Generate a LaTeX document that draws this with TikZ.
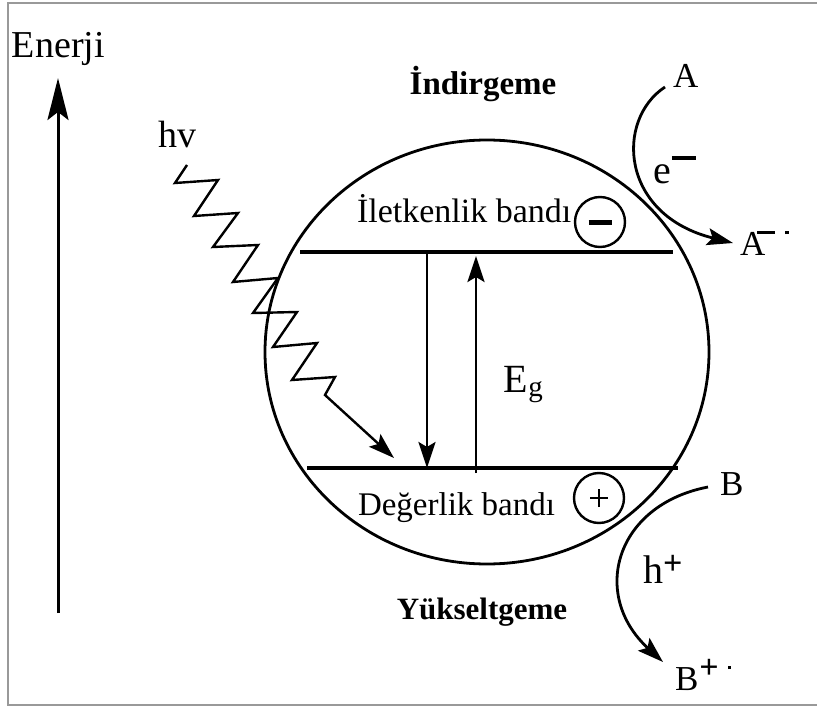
\documentclass[tikz,border=0pt]{standalone}
\usepackage{fontspec}
\setmainfont{Liberation Serif}
\usetikzlibrary{arrows.meta,shapes.geometric}
\newcommand\fsz[1]{\fontsize{#1pt}{#1pt}\selectfont}
\begin{document}
\begin{tikzpicture}[x=1pt,y=-1pt,
  lbl/.style={inner sep=0pt, outer sep=0pt, anchor=base west},
  boldlbl/.style={inner sep=0pt, outer sep=0pt, anchor=base, font=\fsz{33}\bfseries},
  headtip/.style={-{Stealth[length=26pt,width=17pt,inset=5pt]}},
  band/.style={line width=3.5pt},
  conn/.style={line width=2.8pt},
  chg/.style={circle, draw, line width=2.4pt, minimum size=50pt, inner sep=0pt},
  framestyle/.style={draw=gray!80, line width=2pt}]
\useasboundingbox (0,0) rectangle (817,709);
% frame
\draw[framestyle] (817,3) -- (8,3) -- (8,705) -- (817,705);

% energy axis
\coordinate (ebot) at (58,613);
\coordinate (etop) at (58,78);
\draw[line width=3pt, -{Stealth[length=42pt,width=21pt,inset=8pt]}] (ebot) -- (etop);
\node[lbl, font=\fsz{38}] (enerji) at (12,58) {Enerji};

% semiconductor particle
\node[draw, ellipse, line width=2.8pt, minimum width=444pt, minimum height=424pt, inner sep=0pt] (sc) at (487,352) {};

% bands
\coordinate (cb1) at (300,252); \coordinate (cb2) at (673,252);
\coordinate (vb1) at (307,468); \coordinate (vb2) at (678,468);
\draw[band] (cb1) -- (cb2);
\draw[band] (vb1) -- (vb2);

% band gap arrows
\coordinate (dtop) at (427,252); \coordinate (dbot) at (427,468);
\coordinate (ubot) at (476,473); \coordinate (utop) at (476,256);
\draw[conn, headtip] (dtop) -- (dbot);
\draw[conn, headtip] (ubot) -- (utop);
\node[lbl, font=\fsz{40}] (eg) at (503,392) {E\kern1pt\raisebox{-4pt}{\fsz{29}g}};

% band labels
\node[lbl, font=\fsz{34}] (cbl) at (357,222) {İletkenlik bandı};
\node[lbl, font=\fsz{33}] (vbl) at (358,515) {Değerlik bandı};
\node[chg] (minus) at (600,222) {\rule{23pt}{5pt}};
\node[chg] (plus) at (599,498) {\rlap{\rule[7.75pt]{18pt}{2.5pt}}\kern7.75pt\rule{2.5pt}{18pt}\kern7.75pt};

% reaction labels
\node[boldlbl] (ind) at (483,95) {İndirgeme};
\node[boldlbl, font=\fsz{31}\bfseries] (yuk) at (482,619) {Yükseltgeme};

% photon
\node[lbl, font=\fsz{38}] (hv) at (158,147) {hv};
\coordinate (hvs) at (187,165);
\coordinate (hve) at (394,458);
\draw[line width=2.4pt, line join=miter, headtip] (hvs) -- (175,183) -- (218,180) -- (194,216) -- (238,213)
  -- (213,247) -- (258,245) -- (233,282) -- (278,278) -- (253,313) -- (297,312)
  -- (273,347) -- (317,343) -- (292,380) -- (335,377) -- (325,395) -- (hve);

% reduction A -> A-.
\node[lbl, font=\fsz{35}] (A) at (673,88) {A};
\node[lbl, font=\fsz{35}] (Arad) at (740,255) {A\kern-8pt\rule[21pt]{18pt}{3.5pt}\kern10pt\rule[21pt]{3.5pt}{3.5pt}};
\node[lbl, font=\fsz{40}] (elec) at (653,183) {e\kern1pt\rule[23pt]{24pt}{4pt}};
\coordinate (as) at (665,87);
\coordinate (ae) at (733,243);
\draw[conn, headtip] (as) .. controls (615,120) and (620,215) .. (ae);

% oxidation B -> B+.
\node[lbl, font=\fsz{35}] (B) at (720,495) {B};
\node[lbl, font=\fsz{35}] (Brad) at (675,690) {B\kern1pt\raisebox{12pt}{\fsz{34}\bfseries +}\kern9pt\rule[21pt]{3.5pt}{3.5pt}};
\node[lbl, font=\fsz{40}] (hole) at (643,583) {h\raisebox{9pt}{\fsz{34}\bfseries +}};
\coordinate (bs) at (708,487);
\coordinate (be) at (663,662);
\draw[conn, headtip] (bs) .. controls (615,505) and (590,595) .. (be);
\end{tikzpicture}
\end{document}
